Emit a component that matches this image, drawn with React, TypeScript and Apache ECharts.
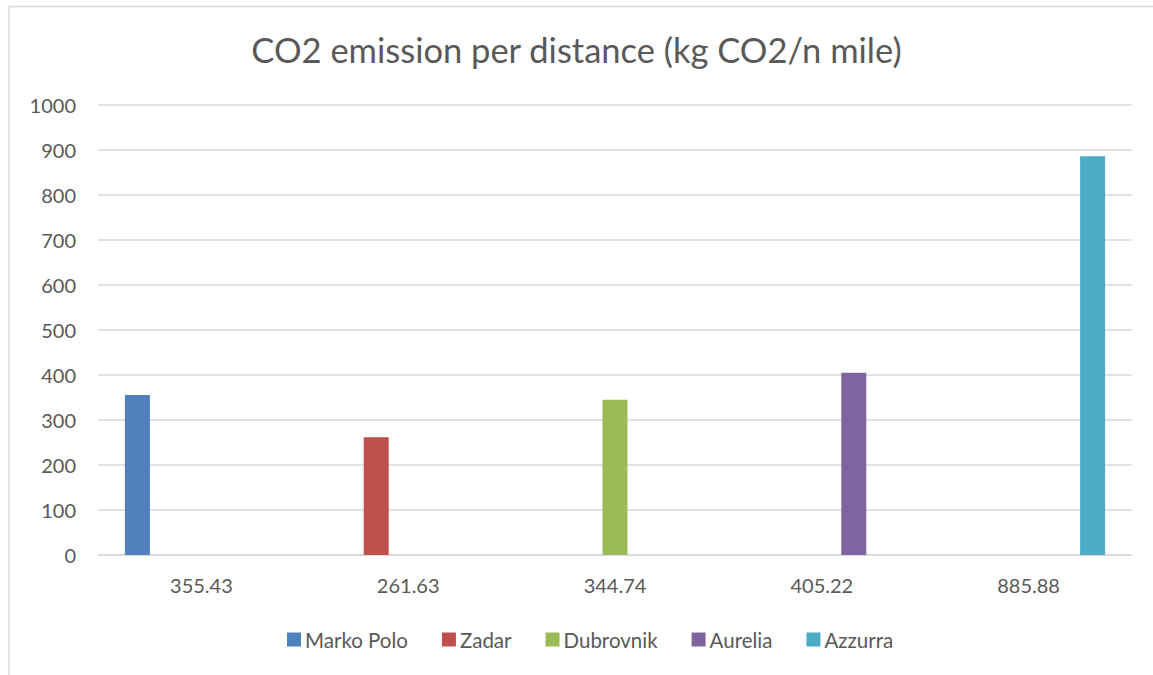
import React, { useEffect, useRef } from "react";
import * as echarts from "echarts";

const categories = ["355.43", "261.63", "344.74", "405.22", "885.88"];
const seriesNames = ["Marko Polo", "Zadar", "Dubrovnik", "Aurelia", "Azzurra"];
const seriesValues = [355.43, 261.63, 344.74, 405.22, 885.88];
const colors = ["#4f81bd", "#c0504d", "#9bbb59", "#8064a2", "#4bacc6"];
const yTicks = { min: 0, max: 1000, interval: 100 };

const FONT = "Lato";

export default function App() {
  const ref = useRef<HTMLDivElement>(null);
  useEffect(() => {
    if (!ref.current) return;
    const chart = echarts.init(ref.current, null, { renderer: "svg" });
    const series = seriesNames.map((name, i) => ({
      name,
      type: "bar",
      data: categories.map((_, j) => (j === i ? seriesValues[i] : null)),
      barWidth: 25,
      barGap: "28%",
      itemStyle: { color: colors[i] },
    }));
    chart.setOption({
      animation: false,
      textStyle: { fontFamily: FONT },
      title: {
        text: "CO2 emission per distance (kg CO2/n mile)",
        left: "center",
        top: 27,
        textStyle: { fontFamily: FONT, fontSize: 34.5, fontWeight: "normal", color: "#595959" },
      },
      graphic: [
        {
          type: "rect",
          shape: { x: 9, y: 6.5, width: 1170, height: 700 },
          style: { fill: "none", stroke: "#d9d9d9", lineWidth: 1.5 },
          silent: true,
        },
      ],
      legend: {
        top: 624,
        left: 282,
        padding: 5,
        itemWidth: 14,
        itemHeight: 14,
        itemGap: 34,
        icon: "rect",
        textStyle: { fontFamily: FONT, fontSize: 20.5, color: "#595959", padding: [0, 0, 0, -1] },
        data: seriesNames,
      },
      grid: { left: 98, right: 21, top: 105, bottom: 120, containLabel: false },
      xAxis: {
        type: "category",
        data: categories,
        axisLine: { lineStyle: { color: "#d9d9d9", width: 1.5 } },
        axisTick: { show: false },
        axisLabel: { fontFamily: FONT, fontSize: 20, color: "#595959", margin: 20 },
      },
      yAxis: {
        type: "value",
        min: yTicks.min,
        max: yTicks.max,
        interval: yTicks.interval,
        axisLine: { show: false },
        axisTick: { show: false },
        axisLabel: {
          fontFamily: FONT,
          fontSize: 20,
          color: "#595959",
          margin: 22,
          formatter: (v: number) => String(v),
        },
        splitLine: { lineStyle: { color: "#d9d9d9", width: 1.5 } },
      },
      series,
    });
    return () => chart.dispose();
  }, []);
  return (
    <div
      ref={ref}
      style={{ position: "fixed", left: 0, top: 0, width: 1153, height: 675, background: "#fff" }}
    />
  );
}
